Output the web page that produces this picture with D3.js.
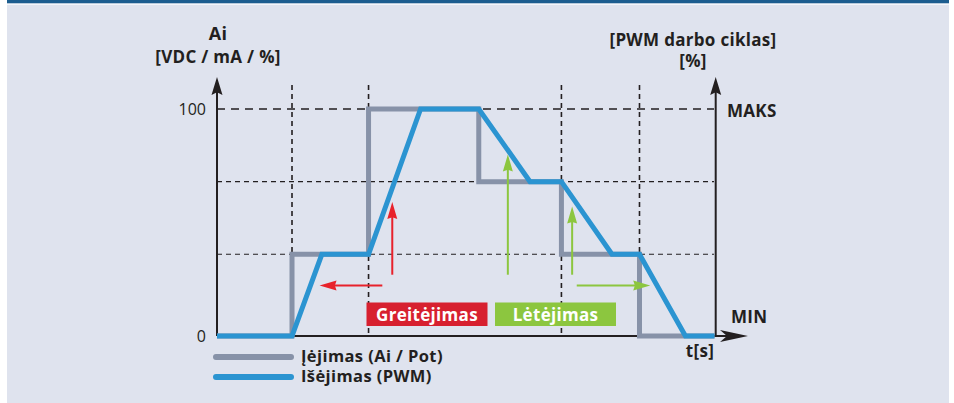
<!DOCTYPE html>
<html>
<head>
<meta charset="utf-8">
<script src="https://cdn.jsdelivr.net/npm/d3@7"></script>
<style>
  html, body { margin: 0; padding: 0; background: #ffffff; }
  svg { display: block; font-family: "Open Sans", sans-serif; }
</style>
</head>
<body>
<svg id="chart" width="954" height="403"></svg>
<script>
// time positions of the dashed guides and value levels
var guideT = [0.98, 1.98, 4.5, 5.52];
var levelV = [36, 68, 100];

// input (grey, stepped) and output (blue, ramped)
var inputT = [0, 0.98, 0.98, 1.98, 1.98, 3.42, 3.42, 4.5, 4.5, 5.52, 5.52, 6.5];
var inputV = [0, 0, 36, 36, 100, 100, 68, 68, 36, 36, 0, 0];
var outputT = [0, 0.98, 1.37, 1.98, 2.66, 3.42, 4.09, 4.5, 5.16, 5.52, 6.12, 6.5];
var outputV = [0, 0, 36, 36, 100, 100, 68, 68, 36, 36, 0, 0];

// annotation arrows: [t1, v1, t2, v2]
var redArrows = [[2.29, 27, 2.29, 59], [2.16, 22.3, 1.34, 22.3]];
var greenArrows = [[3.8, 27, 3.8, 80], [4.64, 27, 4.64, 57], [4.7, 22.3, 5.66, 22.3]];

var yTicks = [0, 100];

var svg = d3.select('#chart');

// panel background + top bar
svg.append('rect').attr('x', 7).attr('y', 0).attr('width', 942).attr('height', 403).attr('fill', '#dfe3ee');
svg.append('rect').attr('x', 7).attr('y', 0).attr('width', 942).attr('height', 3.5).attr('fill', '#1c5d8f');
svg.append('rect').attr('x', 7).attr('y', 3.5).attr('width', 942).attr('height', 1.5).attr('fill', '#f4f6fa');

var x = d3.scaleLinear().domain([0, 6.5]).range([217, 714.5]);
var y = d3.scaleLinear().domain([0, 100]).range([336, 109]);

var dark = '#231f20';

// horizontal dashed guides
svg.selectAll('.hguide')
    .data(levelV)
    .enter()
    .append('line')
    .attr('x1', x(0)).attr('x2', 714)
    .attr('y1', function(d) { return y(d); })
    .attr('y2', function(d) { return y(d); })
    .attr('stroke', dark)
    .attr('stroke-width', function(d) { return d === 100 ? 1.6 : 1.1; })
    .attr('stroke-dasharray', function(d) { return d === 100 ? '8,6' : '5,4'; });

// vertical dashed guides
svg.selectAll('.vguide')
    .data(guideT)
    .enter()
    .append('line')
    .attr('x1', function(d) { return x(d); })
    .attr('x2', function(d) { return x(d); })
    .attr('y1', 85).attr('y2', y(0))
    .attr('stroke', dark)
    .attr('stroke-width', 1.6)
    .attr('stroke-dasharray', '5,4');

function arrowHead(tipX, tipY, dir, len, half, notch) {
    // dir: unit vector of arrow direction
    var px = -dir[1], py = dir[0];
    var bx = tipX - dir[0] * len, by = tipY - dir[1] * len;
    var nx = tipX - dir[0] * len * notch, ny = tipY - dir[1] * len * notch;
    return 'M' + tipX + ',' + tipY +
        'L' + (bx + px * half) + ',' + (by + py * half) +
        'L' + nx + ',' + ny +
        'L' + (bx - px * half) + ',' + (by - py * half) + 'Z';
}

// axes
svg.append('line').attr('x1', x(0)).attr('x2', x(0)).attr('y1', y(0)).attr('y2', 88)
    .attr('stroke', dark).attr('stroke-width', 2);
svg.append('path').attr('d', arrowHead(x(0), 77, [0, -1], 18, 5.5, 0.85)).attr('fill', dark);

svg.append('line').attr('x1', 715.7).attr('x2', 715.7).attr('y1', y(0)).attr('y2', 88)
    .attr('stroke', dark).attr('stroke-width', 2);
svg.append('path').attr('d', arrowHead(715.7, 77, [0, -1], 18, 5.5, 0.85)).attr('fill', dark);

svg.append('line').attr('x1', x(0)).attr('x2', 735).attr('y1', y(0)).attr('y2', y(0))
    .attr('stroke', dark).attr('stroke-width', 2);
svg.append('path').attr('d', arrowHead(748, y(0), [1, 0], 28, 6, 0.75)).attr('fill', dark);

// data lines
var line = d3.line()
    .x(function(d) { return x(d[0]); })
    .y(function(d) { return y(d[1]); });

var inputPts = inputT.map(function(t, i) { return [t, inputV[i]]; });
var outputPts = outputT.map(function(t, i) { return [t, outputV[i]]; });

svg.append('path').attr('d', line(inputPts))
    .attr('fill', 'none').attr('stroke', '#8792a8').attr('stroke-width', 5)
    .attr('stroke-linejoin', 'miter');
svg.append('path').attr('d', line(outputPts))
    .attr('fill', 'none').attr('stroke', '#2b94d1').attr('stroke-width', 5)
    .attr('stroke-linejoin', 'miter');

// annotation arrows
function drawArrows(data, color) {
    data.forEach(function(a) {
        var x1 = x(a[0]), y1 = y(a[1]), x2 = x(a[2]), y2 = y(a[3]);
        var dx = x2 - x1, dy = y2 - y1, l = Math.sqrt(dx * dx + dy * dy);
        var dir = [dx / l, dy / l];
        svg.append('line')
            .attr('x1', x1).attr('y1', y1)
            .attr('x2', x2 - dir[0] * 12).attr('y2', y2 - dir[1] * 12)
            .attr('stroke', color).attr('stroke-width', 2);
        svg.append('path').attr('d', arrowHead(x2, y2, dir, 17, 5, 0.9)).attr('fill', color);
    });
}
drawArrows(redArrows, '#e8222b');
drawArrows(greenArrows, '#8cc63f');

// tick labels
svg.selectAll('.ytick')
    .data(yTicks)
    .enter()
    .append('text')
    .attr('x', 206)
    .attr('y', function(d) { return y(d) + 6; })
    .attr('text-anchor', 'end')
    .attr('font-size', 16)
    .attr('fill', dark)
    .text(function(d) { return d; });

function label(txt, lx, ly, anchor, size) {
    svg.append('text')
        .attr('x', lx).attr('y', ly)
        .attr('text-anchor', anchor)
        .attr('font-size', size)
        .attr('font-weight', 700)
        .attr('letter-spacing', 0.3)
        .attr('fill', dark)
        .text(txt);
}
label('Ai', 218, 40, 'middle', 18);
label('[VDC / mA / %]', 218, 63, 'middle', 17);
label('[PWM darbo ciklas]', 693, 46, 'middle', 17);
label('[%]', 693, 67, 'middle', 17);
label('MAKS', 727, 117, 'start', 17);
label('MIN', 731, 323, 'start', 17);
label('t[s]', 700, 357, 'middle', 17);

// phase boxes
var boxes = [
    { text: 'Greitėjimas', x0: 366.5, x1: 487.5, fill: '#d7202f' },
    { text: 'Lėtėjimas', x0: 495, x1: 616, fill: '#8cc63f' }
];
boxes.forEach(function(b) {
    svg.append('rect').attr('x', b.x0).attr('y', 302.5).attr('width', b.x1 - b.x0).attr('height', 23.5)
        .attr('fill', b.fill);
    svg.append('text').attr('x', (b.x0 + b.x1) / 2).attr('y', 320.5)
        .attr('text-anchor', 'middle').attr('font-size', 17).attr('font-weight', 700)
        .attr('letter-spacing', 0.3)
        .attr('fill', '#ffffff').text(b.text);
});

// legend
var legend = [
    { text: 'Įėjimas (Ai / Pot)', color: '#8792a8', y: 357 },
    { text: 'Išėjimas (PWM)', color: '#2b94d1', y: 377 }
];
legend.forEach(function(l) {
    svg.append('line').attr('x1', 216).attr('x2', 291).attr('y1', l.y).attr('y2', l.y)
        .attr('stroke', l.color).attr('stroke-width', 6).attr('stroke-linecap', 'round');
    svg.append('text').attr('x', 301).attr('y', l.y + 4.5).attr('font-size', 16.5).attr('font-weight', 700)
        .attr('letter-spacing', 0.4)
        .attr('fill', dark).text(l.text);
});
</script>
</body>
</html>
